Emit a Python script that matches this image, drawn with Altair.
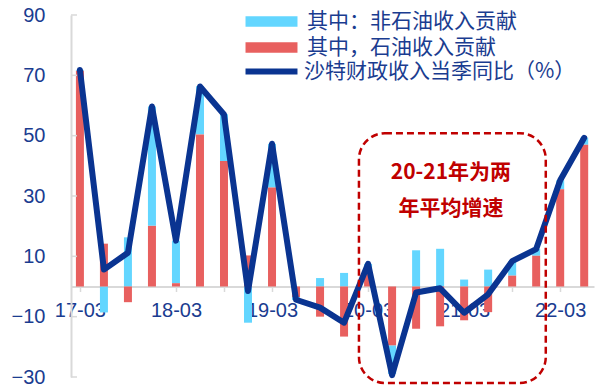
import altair as alt
import pandas as pd

# Quarterly periods, 2017Q1 .. 2022Q2
quarters = ["17-03", "17-06", "17-09", "17-12",
            "18-03", "18-06", "18-09", "18-12",
            "19-03", "19-06", "19-09", "19-12",
            "20-03", "20-06", "20-09", "20-12",
            "21-03", "21-06", "21-09", "21-12",
            "22-03", "22-06"]

# Contribution of non-oil revenue (pp)
non_oil = [0.3, -8.6, 16.3, 39.6, 14.1, 16.0, 15.5, -12.0, 14.5, -1.0, 2.8,
           4.5, 2.5, -9.5, 12.0, 12.5, 2.3, 5.6, 4.8, 2.2, 3.0, 2.3]
# Contribution of oil revenue (pp)
oil = [71.5, 14.2, -5.2, 20.1, 1.1, 50.4, 41.6, 10.3, 32.8, -3.5, -10.0,
       -16.6, 5.0, -19.5, -14.0, -13.2, -11.2, -8.5, 3.6, 10.2, 32.2, 47.0]
# Saudi fiscal revenue, quarterly YoY (%)
total = [71.8, 5.6, 11.2, 59.7, 15.2, 66.3, 57.0, -1.5, 47.3, -4.4, -7.0,
         -12.0, 7.5, -29.4, -2.0, -0.6, -8.7, -2.6, 8.4, 12.4, 35.2, 49.3]

label_non_oil = "其中：非石油收入贡献"
label_oil = "其中，石油收入贡献"
label_total = "沙特财政收入当季同比（%）"

y_ticks = [-30, -10, 10, 30, 50, 70, 90]
label_every = 4

# Highlight box around 2020-2021
box_x = [11.62]
box_x2 = [19.4]
box_y = [50.8]
box_y2 = [-32.0]
note_lines = ["20-21年为两", "年平均增速"]
note_x = [15.45, 15.45]
note_y = [37.6, 25.8]

BLUE = "#0a3491"
TEXT_BLUE = "#1a3c90"
CYAN = "#63d6ff"
RED = "#e8605f"
DARK_RED = "#c00000"
AXIS_GRAY = "#d9d9d9"
FONT = "Liberation Sans"
CJK = "Noto Sans CJK SC"

n = len(quarters)
idx = list(range(n))

bars = pd.DataFrame({
    "i": idx * 2,
    "value": non_oil + oil,
    "series": [label_non_oil] * n + [label_oil] * n,
    "stack_order": [1] * n + [0] * n,
})
line_df = pd.DataFrame({"i": idx, "value": total, "series": [label_total] * n})

W, H = 523, 362
y_dom = [y_ticks[0], y_ticks[-1]]
x_dom = [-0.163, 21.2]
zero_px = H * (y_dom[1] - 0) / (y_dom[1] - y_dom[0])

label_map = "{" + ",".join(
    f"'{i}':'{q}'" for i, q in enumerate(quarters) if i % label_every == 0) + "}"

x_scale = alt.Scale(domain=x_dom, nice=False, zero=False)
y_scale = alt.Scale(domain=y_dom, nice=False)

x_axis = alt.Axis(
    values=idx, labelExpr=f"({label_map})[datum.value] || ''",
    offset=-(H - zero_px), domainColor=AXIS_GRAY, domainWidth=2,
    tickColor=AXIS_GRAY, tickWidth=1.5, tickSize=5, labelPadding=9,
    labelFont=FONT, labelFontSize=20, labelColor=TEXT_BLUE, title=None,
    grid=False, labelFlush=False, labelOverlap=False)
y_axis = alt.Axis(
    values=y_ticks, domainColor=AXIS_GRAY, domainWidth=2, ticks=False,
    labelPadding=26, labelFont=FONT, labelFontSize=20, labelColor=TEXT_BLUE,
    title=None, grid=False)

rect_path = "M-5,-1H5V1H-5Z"
stroke_path = "M-5,0H5"

bar_layer = alt.Chart(bars).mark_bar(size=8).encode(
    x=alt.X("i:Q", scale=x_scale, axis=x_axis),
    y=alt.Y("value:Q", scale=y_scale, axis=y_axis, stack="zero"),
    fill=alt.Fill("series:N",
                  scale=alt.Scale(domain=[label_non_oil, label_oil], range=[CYAN, RED]),
                  legend=alt.Legend(orient="none", legendX=190, legendY=-4,
                                    title=None, symbolType=rect_path, symbolSize=108,
                                    symbolStrokeWidth=0, labelOffset=25,
                                    labelFont=CJK, labelFontSize=21,
                                    labelColor=TEXT_BLUE, rowPadding=4,
                                    labelLimit=400, padding=0)),
    order=alt.Order("stack_order:Q"),
)

tick_layer = alt.Chart(pd.DataFrame({"v": y_ticks})).mark_rule(
    color=AXIS_GRAY, strokeWidth=1.5).encode(
    y=alt.Y("v:Q", scale=y_scale), x=alt.value(0), x2=alt.value(6))

line_layer = alt.Chart(line_df).mark_line(
    strokeWidth=6, strokeCap="round", strokeJoin="round").encode(
    x=alt.X("i:Q", scale=x_scale),
    y=alt.Y("value:Q", scale=y_scale),
    stroke=alt.Stroke("series:N", scale=alt.Scale(domain=[label_total], range=[BLUE]),
                      legend=alt.Legend(orient="none", legendX=190, legendY=46,
                                        title=None, symbolType=stroke_path,
                                        symbolSize=108, symbolStrokeWidth=6,
                                        labelOffset=22, labelFont=CJK,
                                        labelFontSize=21, labelColor=TEXT_BLUE,
                                        labelLimit=400, padding=0)),
)

box_layer = alt.Chart(pd.DataFrame({"x": box_x, "x2": box_x2, "y": box_y, "y2": box_y2})).mark_rect(
    fillOpacity=0, stroke=DARK_RED, strokeWidth=2.5, strokeDash=[7, 4],
    cornerRadius=26, clip=False).encode(
    x=alt.X("x:Q", scale=x_scale), x2="x2:Q",
    y=alt.Y("y:Q", scale=y_scale), y2="y2:Q")

note_layer = alt.Chart(pd.DataFrame({"t": note_lines, "x": note_x, "y": note_y})).mark_text(
    font=CJK, fontSize=21, fontWeight="bold", color=DARK_RED,
    align="center", baseline="middle").encode(
    x=alt.X("x:Q", scale=x_scale), y=alt.Y("y:Q", scale=y_scale), text="t:N")

chart = alt.layer(bar_layer, tick_layer, line_layer, box_layer, note_layer).resolve_scale(
    fill="independent", stroke="independent"
).properties(
    width=W, height=H,
    autosize=alt.AutoSizeParams(type="none"),
    padding={"left": 71, "top": 15, "right": 10, "bottom": 14},
    background="white",
).configure_view(stroke=None)

chart.save("out.html", embed_options={"renderer": "svg", "actions": False})
